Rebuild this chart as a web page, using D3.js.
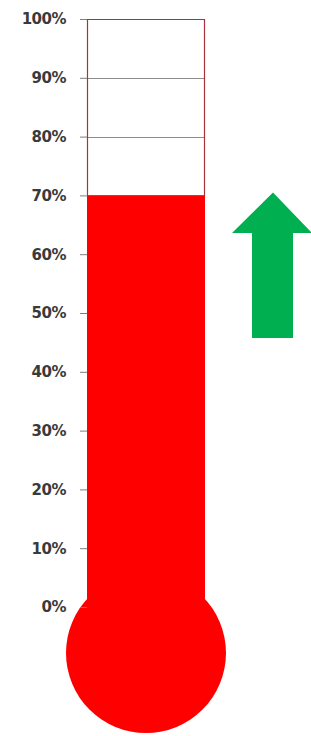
<!DOCTYPE html>
<html><head><meta charset="utf-8">
<script src="https://cdn.jsdelivr.net/npm/d3@7"></script>
<style>html,body{margin:0;padding:0;background:#fff;}svg{display:block;}</style>
</head><body>
<svg id="chart" width="311" height="736"></svg>
<script>
const tickValues = [0, 0.1, 0.2, 0.3, 0.4, 0.5, 0.6, 0.7, 0.8, 0.9, 1.0];
const categories = ["Progress"];
const values = [0.70];
const trend = ["up"];

const svg = d3.select("#chart");
const y = d3.scaleLinear().domain([0, 1]).range([607, 19]);
const x = d3.scaleBand().domain(categories).range([87, 205]).padding(0);

// gridlines
svg.append("g").selectAll("line").data(tickValues.filter(d => d > 0 && d < 1)).join("line")
  .attr("x1", x(categories[0])).attr("x2", x(categories[0]) + x.bandwidth())
  .attr("y1", d => Math.round(y(d)) + 0.5).attr("y2", d => Math.round(y(d)) + 0.5)
  .attr("stroke", "#8c8c8c").attr("stroke-width", 1);

// bulb
const cx = x(categories[0]) + x.bandwidth() / 2;
svg.append("ellipse").attr("cx", cx).attr("cy", 653).attr("rx", 80).attr("ry", 80)
  .attr("fill", "#ff0000");

// fill
svg.append("g").selectAll("rect").data(values).join("rect")
  .attr("x", x(categories[0])).attr("width", x.bandwidth())
  .attr("y", d => y(d)).attr("height", d => y(0) - y(d) + 10)
  .attr("fill", "#ff0000");

// tube border (above fill)
svg.append("path")
  .attr("d", `M${x(categories[0]) + 0.5},${y(values[0])} V${y(1) + 0.5} H${x(categories[0]) + x.bandwidth() - 0.5} V${y(values[0])}`)
  .attr("fill", "none").attr("stroke", "#a8323c").attr("stroke-width", 1.2);

// axis
const axis = d3.axisLeft(y).tickValues(tickValues).tickFormat(d3.format(".0%")).tickSize(7).tickPadding(14);
const ag = svg.append("g").attr("transform", `translate(${x(categories[0])},0)`).call(axis);
ag.select(".domain").remove();
ag.selectAll(".tick line").attr("stroke", "#7f7f7f");
ag.selectAll(".tick text").attr("fill", "#3a3a3a")
  .style("font-family", "'DejaVu Sans', sans-serif").style("font-weight", "bold")
  .style("font-size", "15px").style("letter-spacing", "-0.5px");

// arrow
const arrowTop = y(0.7) - 3;
svg.append("g").selectAll("path").data(trend).join("path")
  .attr("d", `M273,${arrowTop} L312,233 L293,233 L293,338 L252,338 L252,233 L232,233 Z`)
  .attr("fill", "#00b050");
</script>
</body></html>
